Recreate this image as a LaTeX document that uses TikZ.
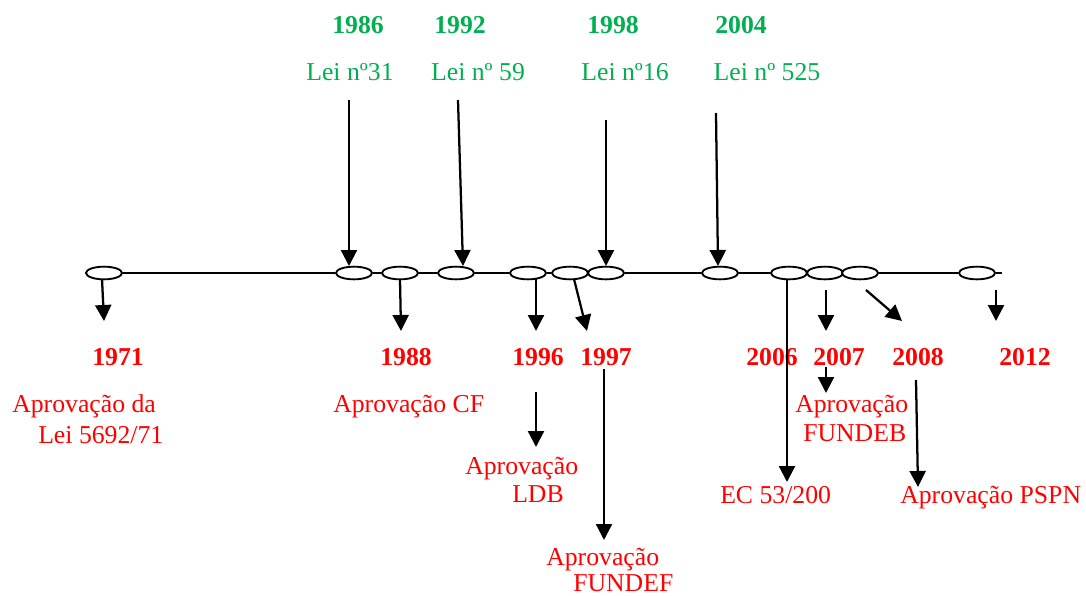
\documentclass[tikz,border=0pt]{standalone}
\usepackage{fontspec}
\setmainfont{Liberation Serif}
\usetikzlibrary{shapes.geometric,arrows.meta}
\definecolor{grn}{RGB}{0,176,80}
\definecolor{rd}{RGB}{255,0,0}
\newcommand\labsize{\fontsize{19.3}{22}\selectfont}
\begin{document}
\begin{tikzpicture}[x=0.75pt,y=-0.75pt,
  ev/.style={ellipse,draw,fill=white,line width=1.4pt,minimum width=27pt,minimum height=9.5pt,inner sep=0pt},
  arr/.style={line width=1.7pt,-{Triangle[length=12pt,width=12pt]}},
  gy/.style={text=grn,font=\bfseries\labsize,inner sep=0pt},
  gt/.style={text=grn,font=\labsize,inner sep=0pt,anchor=base},
  ry/.style={text=rd,font=\bfseries\labsize,inner sep=0pt},
  rt/.style={text=rd,font=\labsize,inner sep=0pt,anchor=base west},
  tl/.style={line width=0.9pt}]
\useasboundingbox (0,0) rectangle (1086,596);

% events on the time line
\node[ev] (e1971) at (104,273) {};
\node[ev] (e1986) at (354,273) {};
\node[ev] (e1988) at (400,273) {};
\node[ev] (e1992) at (456,273) {};
\node[ev] (e1996) at (528,273) {};
\node[ev] (e1997) at (570,273) {};
\node[ev] (e1998) at (606,273) {};
\node[ev] (e2004) at (720,273) {};
\node[ev] (e2006) at (789,273) {};
\node[ev] (e2007) at (825,273) {};
\node[ev] (e2008) at (860,273) {};
\node[ev] (e2012) at (977,273) {};
\coordinate (tend) at (1002,273);

\draw[tl] (e1971.east) -- (e1986.west);
\draw[tl] (e1986.east) -- (e1988.west);
\draw[tl] (e1988.east) -- (e1992.west);
\draw[tl] (e1992.east) -- (e1996.west);
\draw[tl] (e1996.east) -- (e1997.west);
\draw[tl] (e1998.east) -- (e2004.west);
\draw[tl] (e2004.east) -- (e2006.west);
\draw[tl] (e2008.east) -- (e2012.west);
\draw[tl] (e2012.east) -- (tend);

% green labels (top)
\node[gy] (y1986) at (358,25) {1986};
\node[gy] (y1992) at (460,25) {1992};
\node[gy] (y1998) at (613,25) {1998};
\node[gy] (y2004) at (741,25) {2004};
\node[gt] (l1986) at (350,80) {Lei nº31};
\node[gt] (l1992) at (478,80) {Lei nº 59};
\node[gt] (l1998) at (625,80) {Lei nº16};
\node[gt] (l2004) at (767,80) {Lei nº 525};

% red years (bottom)
\node[ry] (y1971) at (118,357) {1971};
\node[ry] (y1988) at (406,357) {1988};
\node[ry] (y1996) at (538,357) {1996};
\node[ry] (y1997) at (606,357) {1997};
\node[ry] (y2006) at (772,357) {2006};
\node[ry] (y2007) at (839,357) {2007};
\node[ry] (y2008) at (918,357) {2008};
\node[ry] (y2012) at (1025,357) {2012};

% red texts
\node[rt] (a1971) at (12,412) {Aprovação da};
\node[rt] (b1971) at (38,443) {Lei 5692/71};
\node[rt] (a1988) at (333,412) {Aprovação CF};
\node[rt] (a1996) at (465,474) {Aprovação};
\node[rt] (b1996) at (512,502) {LDB};
\node[rt] (a1997) at (546,565) {Aprovação};
\node[rt] (b1997) at (573,591) {FUNDEF};
\node[rt] (a2006) at (720,503) {EC 53/200};
\node[rt] (a2007) at (795,412) {Aprovação};
\node[rt] (b2007) at (803,441) {FUNDEB};
\node[rt] (a2008) at (900,503) {Aprovação PSPN};

% arrow end points
\coordinate (s1986) at (349,100);  \coordinate (t1986) at (349,266);
\coordinate (s1992) at (458,100);  \coordinate (t1992) at (463,266);
\coordinate (s1998) at (606,120);  \coordinate (t1998) at (606,266);
\coordinate (s2004) at (716,113);  \coordinate (t2004) at (718,266);
\coordinate (s1971) at (102,279);  \coordinate (t1971) at (104,321);
\coordinate (s1988) at (400,279);  \coordinate (t1988) at (401,331);
\coordinate (s1996) at (536,279);  \coordinate (t1996) at (536,331);
\coordinate (s1997) at (574,279);  \coordinate (t1997) at (587,331);
\coordinate (s2006) at (787,279);  \coordinate (t2006) at (787,482);
\coordinate (s2007) at (826,290);  \coordinate (t2007) at (826,331);
\coordinate (u2007) at (826,367);  \coordinate (v2007) at (826,393);
\coordinate (s2008) at (866,290);  \coordinate (t2008) at (902,321);
\coordinate (u2008) at (916,380);  \coordinate (v2008) at (918,487);
\coordinate (s2012) at (996,290);  \coordinate (t2012) at (996,321);
\coordinate (u1996) at (536,392);  \coordinate (v1996) at (536,447);
\coordinate (u1997) at (604,369);  \coordinate (v1997) at (604,540);

\draw[arr] (s1986) -- (t1986);
\draw[arr] (s1992) -- (t1992);
\draw[arr] (s1998) -- (t1998);
\draw[arr] (s2004) -- (t2004);
\draw[arr] (s1971) -- (t1971);
\draw[arr] (s1988) -- (t1988);
\draw[arr] (s1996) -- (t1996);
\draw[arr] (s1997) -- (t1997);
\draw[arr] (s2006) -- (t2006);
\draw[arr] (s2007) -- (t2007);
\draw[arr] (u2007) -- (v2007);
\draw[arr] (s2008) -- (t2008);
\draw[arr] (u2008) -- (v2008);
\draw[arr] (s2012) -- (t2012);
\draw[arr] (u1996) -- (v1996);
\draw[arr] (u1997) -- (v1997);
\end{tikzpicture}
\end{document}
